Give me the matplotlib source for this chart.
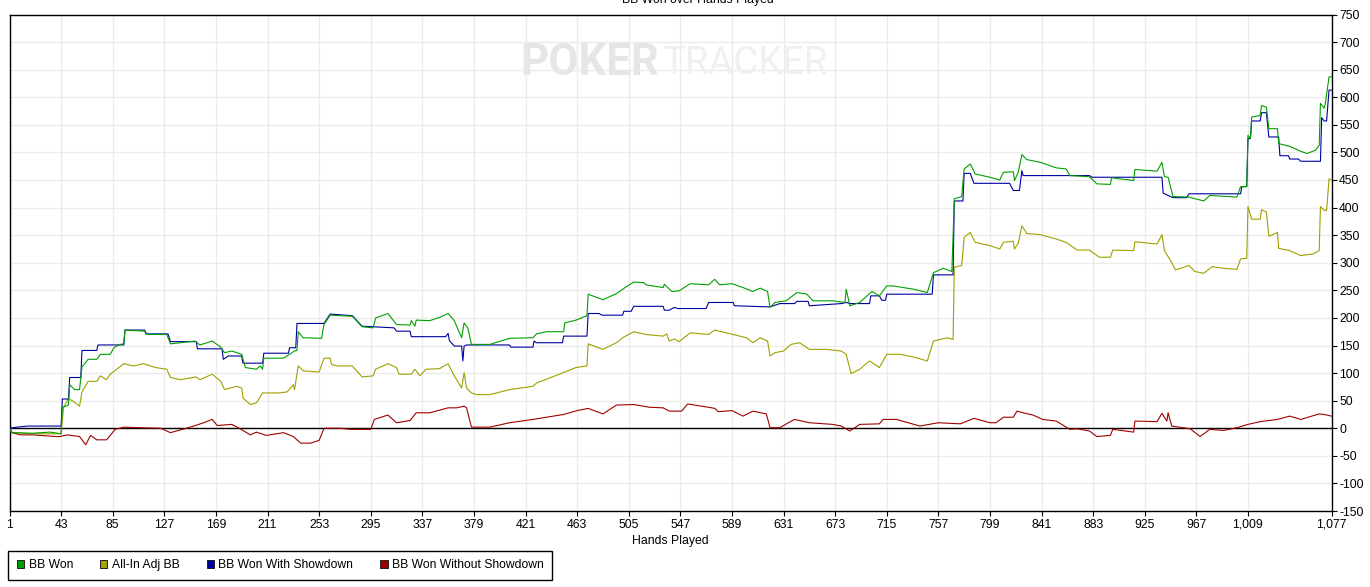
import matplotlib
matplotlib.use("Agg")
import matplotlib.pyplot as plt
from matplotlib.patches import Patch

plt.rcParams["font.family"] = ["Liberation Sans", "DejaVu Sans"]
plt.rcParams["axes.unicode_minus"] = False

# BB Won (green)
won_hands = [1, 3, 20, 34, 43, 44, 49, 50, 54, 58, 60, 65, 72, 75, 83, 86, 91, 94, 95, 111, 114, 129, 132, 140,
             152, 156, 166, 173, 176, 182, 190, 193, 202, 205, 207, 208, 224, 233, 235, 236, 240, 255, 257, 262,
             280, 288, 297, 299, 309, 316, 327, 328, 331, 332, 343, 351, 358, 363, 369, 371, 374, 377, 392, 408,
             427, 430, 438, 452, 453, 462, 471, 472, 484, 495, 500, 509, 517, 519, 533, 534, 540, 546, 555, 570,
             575, 579, 589, 598, 606, 612, 618, 620, 624, 633, 642, 650, 655, 671, 681, 682, 685, 693, 703, 709,
             715, 720, 737, 748, 753, 761, 768, 770, 776, 778, 783, 787, 799, 807, 810, 818, 819, 822, 825, 829,
             840, 853, 861, 864, 880, 886, 897, 898, 916, 917, 935, 939, 941, 944, 948, 961, 973, 978, 1000, 1003,
             1008, 1009, 1011, 1012, 1019, 1020, 1024, 1026, 1033, 1034, 1043, 1052, 1057, 1064, 1067, 1068, 1071,
             1072, 1075, 1077]
won_bb = [0, -8, -9, -7, -10, 38, 42, 79, 70, 70, 111, 125, 125, 134, 134, 146, 152, 153, 178, 176, 170, 170, 153, 155,
          158, 151, 158, 147, 137, 140, 134, 110, 107, 113, 107, 127, 127, 140, 141, 175, 164, 163, 188, 205,
          203, 184, 182, 200, 208, 188, 187, 195, 185, 196, 195, 201, 208, 195, 164, 191, 182, 152, 152, 163,
          164, 171, 175, 175, 191, 196, 204, 243, 233, 244, 252, 265, 264, 260, 255, 261, 248, 249, 262, 260,
          270, 260, 262, 255, 248, 254, 248, 219, 228, 231, 246, 243, 231, 231, 228, 252, 222, 228, 248, 240,
          258, 258, 252, 246, 282, 290, 284, 416, 420, 470, 479, 461, 455, 450, 464, 465, 449, 464, 496, 487,
          482, 472, 470, 458, 456, 443, 442, 454, 449, 469, 466, 482, 456, 455, 420, 419, 412, 422, 419, 438,
          438, 531, 525, 564, 567, 585, 582, 543, 543, 516, 511, 502, 498, 504, 513, 589, 580,
          589, 637, 637]

# All-In Adj BB (olive)
adj_hands = [1, 3, 20, 43, 45, 49, 54, 58, 60, 65, 72, 75, 80, 83, 87, 94, 102, 110, 120, 129, 132, 140, 153, 156,
             166, 173, 176, 181, 186, 190, 191, 197, 202, 207, 221, 227, 232, 233, 236, 240, 253, 257, 262, 263,
             267, 280, 288, 297, 299, 309, 316, 318, 328, 331, 335, 340, 351, 358, 363, 369, 371, 373, 377, 381,
             392, 408, 427, 430, 452, 462, 471, 472, 484, 495, 500, 509, 519, 533, 536, 538, 542, 546, 555, 570,
             575, 590, 601, 606, 612, 618, 620, 624, 631, 637, 644, 652, 666, 678, 682, 686, 693, 701, 709, 715,
             726, 737, 748, 753, 764, 769, 770, 776, 778, 783, 787, 799, 807, 810, 818, 819, 822, 825, 829, 840,
             853, 861, 870, 880, 888, 897, 899, 916, 917, 935, 939, 941, 946, 950, 961, 966, 973, 980, 989, 1000,
             1003, 1008, 1009, 1012, 1019, 1020, 1024, 1026, 1033, 1034, 1043, 1052, 1062, 1067, 1068, 1071, 1073,
             1075, 1077]
adj_bb = [0, -8, -10, -10, 37, 54, 47, 40, 66, 85, 85, 95, 88, 98, 105, 117, 113, 117, 110, 107, 92, 88, 93, 88,
          98, 85, 70, 73, 76, 73, 55, 43, 46, 64, 64, 66, 79, 70, 113, 104, 102, 127, 127, 116,
          113, 113, 93, 95, 107, 117, 110, 98, 98, 107, 95, 107, 108, 117, 95, 73, 101, 73, 64, 61,
          61, 70, 76, 82, 101, 110, 113, 153, 143, 155, 164, 175, 170, 167, 171, 158, 162, 157, 173, 170,
          178, 170, 164, 155, 164, 158, 131, 137, 140, 152, 155, 143, 143, 140, 134, 99, 107, 122, 110, 134,
          134, 129, 122, 158, 164, 161, 292, 295, 346, 355, 337, 331, 325, 337, 339, 325, 335, 367, 353, 351,
          343, 337, 323, 323, 310, 310, 323, 322, 338, 334, 351, 322, 304, 287, 295, 284, 281, 293, 290, 288,
          307, 308, 402, 379, 379, 396, 392, 348, 355, 326, 322, 313, 316, 322, 402, 395, 395,
          452, 450]

# BB Won With Showdown (blue)
sd_hands = [1, 7, 16, 43, 44, 49, 50, 59, 60, 72, 73, 94, 95, 111, 112, 130, 132, 153, 154, 174, 175, 179, 190, 191,
            207, 208, 228, 229, 234, 235, 257, 262, 280, 288, 314, 316, 327, 328, 356, 358, 359, 363, 369, 370,
            371, 373, 408, 409, 427, 428, 430, 451, 452, 471, 472, 481, 483, 500, 501, 507, 509, 533, 534, 538,
            542, 545, 568, 570, 590, 591, 620, 628, 640, 642, 651, 652, 678, 682, 685, 701, 702, 709, 711, 714,
            715, 752, 753, 769, 770, 777, 778, 783, 786, 815, 818, 823, 825, 826, 880, 882, 939, 940, 948, 959,
            961, 1003, 1004, 1008, 1009, 1011, 1012, 1019, 1020, 1024, 1026, 1034, 1035, 1042, 1043, 1050, 1052,
            1068, 1069, 1071, 1073, 1075, 1077]
sd_bb = [0, 2, 4, 4, 53, 53, 92, 92, 141, 141, 151, 151, 178, 178, 171, 171, 157, 157, 144, 144, 125, 131, 131, 118,
         118, 136, 136, 146, 146, 190, 190, 207, 204, 185, 182, 176, 176, 166, 166, 172, 159, 149, 149, 122,
         149, 151, 151, 147, 147, 158, 155, 155, 167, 167, 208, 208, 205, 205, 212, 212, 221, 221, 214, 214,
         219, 217, 217, 228, 228, 222, 220, 226, 226, 230, 230, 222, 226, 228, 226, 226, 240, 240, 232, 232,
         243, 243, 278, 278, 412, 412, 462, 462, 444, 444, 431, 431, 467, 458, 458, 455, 455, 426, 418, 418,
         425, 425, 438, 438, 525, 525, 557, 557, 572, 572, 528, 528, 494, 494, 488, 488, 484,
         484, 563, 557, 557, 613, 613]

# BB Won Without Showdown (red)
nsd_hands = [1, 3, 10, 20, 39, 42, 48, 58, 63, 67, 72, 80, 87, 94, 107, 124, 132, 145, 151, 159, 166, 170, 182, 188,
             197, 202, 210, 224, 232, 238, 246, 253, 257, 270, 278, 295, 298, 309, 316, 327, 332, 343, 358, 365,
             371, 373, 377, 392, 408, 427, 452, 463, 472, 484, 495, 509, 522, 533, 538, 548, 553, 570, 575, 578,
             589, 598, 606, 617, 620, 628, 635, 640, 652, 671, 678, 685, 693, 709, 712, 723, 742, 757, 775, 786,
             799, 804, 810, 818, 821, 826, 834, 842, 853, 864, 870, 880, 886, 897, 899, 916, 917, 935, 939, 943,
             944, 947, 962, 970, 978, 989, 1000, 1009, 1019, 1033, 1043, 1052, 1067, 1071, 1077]
nsd_bb = [0, -8, -12, -12, -15, -15, -12, -15, -30, -13, -21, -21, -2, 2, 1, 0, -8, 0, 4, 10, 16, 5, 7, 0,
          -12, -7, -13, -8, -15, -27, -27, -22, 0, 0, -2, -2, 16, 24, 10, 14, 28, 28, 37, 37,
          40, 37, 2, 2, 10, 16, 25, 32, 36, 26, 42, 43, 38, 37, 31, 31, 44, 38, 36, 30,
          32, 22, 31, 26, 1, 1, 10, 16, 10, 7, 4, -5, 7, 8, 16, 16, 4, 10, 8, 18,
          10, 10, 20, 20, 31, 28, 24, 16, 13, -2, -1, -5, -15, -13, -2, -7, 13, 12, 27, 13,
          28, 4, -1, -15, -2, -4, 1, 7, 12, 16, 22, 16, 26, 25, 22]

series_names = ["BB Won", "All-In Adj BB", "BB Won With Showdown", "BB Won Without Showdown"]
series_colors = ["#00a000", "#a0a000", "#0000a0", "#a00000"]

x_ticks = [1, 43, 85, 127, 169, 211, 253, 295, 337, 379, 421, 463, 505, 547, 589, 631, 673, 715, 757, 799,
           841, 883, 925, 967, 1009, 1077]
y_ticks = list(range(-150, 751, 50))

W, H = 1370, 587
fig = plt.figure(figsize=(W / 100, H / 100), dpi=100)
ax = fig.add_axes([9.5 / W, (H - 511) / H, 1322 / W, 496.5 / H])

ax.set_xlim(1, 1077)
ax.set_ylim(-150, 750)
ax.set_xticks(x_ticks)
ax.set_xticklabels([f"{t:,}" for t in x_ticks])
ax.set_yticks(y_ticks)
ax.set_yticklabels([str(v) for v in y_ticks])
ax.yaxis.tick_right()
ax.grid(True, color="#ebebeb", linewidth=1.0)
ax.set_axisbelow(True)
ax.tick_params(axis="both", labelsize=8.8, length=3.5, width=0.8, color="black", pad=2)
for sp in ax.spines.values():
    sp.set_color("black")
    sp.set_linewidth(1.0)

# watermark
wm_font = ["Roboto", "DejaVu Sans"]
fig.text(520 / W, 1 - 63 / H, "POKER", fontsize=31.5, fontweight="bold", color="#e6e6e6",
         ha="left", va="center", family=wm_font, zorder=0)
fig.text(662 / W, 1 - 63 / H, "TRACKER", fontsize=27.5, color="#f0f0f0",
         ha="left", va="center", family=wm_font, zorder=0)
ax.patch.set_alpha(0)

ax.axhline(0, color="black", linewidth=1.0, zorder=2)

lw = 0.8
ax.plot(adj_hands, adj_bb, color=series_colors[1], linewidth=lw, zorder=3)
ax.plot(nsd_hands, nsd_bb, color=series_colors[3], linewidth=lw, zorder=3)
ax.plot(sd_hands, sd_bb, color=series_colors[2], linewidth=lw, zorder=4)
ax.plot(won_hands, won_bb, color=series_colors[0], linewidth=lw, zorder=5)

fig.text(698 / W, 1 - 2.5 / H, "BB Won over Hands Played", ha="center", va="baseline", fontsize=8.8)
fig.text(670 / W, 1 - 541 / H, "Hands Played", ha="center", va="center", fontsize=8.8)

handles = [Patch(facecolor=c, edgecolor="#202020", linewidth=0.7) for c in series_colors]
leg = fig.legend(handles, series_names, loc="upper left", bbox_to_anchor=(8.3 / W, 1 - 550.7 / H),
                 ncol=4, fontsize=8.7, handlelength=0.6, handleheight=0.6, handletextpad=0.36,
                 columnspacing=2.25, borderpad=0.72, fancybox=False, framealpha=1, borderaxespad=0)
leg.get_frame().set_edgecolor("black")
leg.get_frame().set_linewidth(1.0)

fig.savefig("out.png", dpi=100)
